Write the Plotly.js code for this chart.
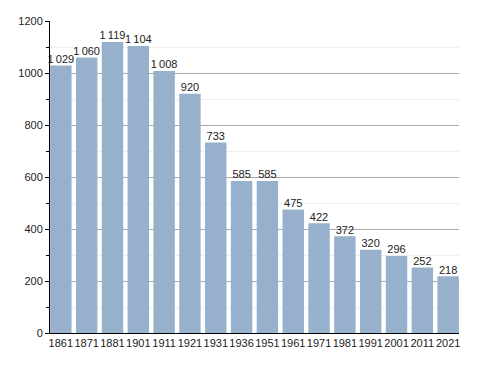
<!DOCTYPE html>
<html><head><meta charset="utf-8">
<script src="https://cdn.plot.ly/plotly-3.0.1.min.js"></script>
<style>body{margin:0;background:#fff}#c{width:488px;height:373px}</style>
</head><body><div id="c"></div>
<script>
const years = ["1861","1871","1881","1901","1911","1921","1931","1936","1951","1961","1971","1981","1991","2001","2011","2021"];
const population = [1029,1060,1119,1104,1008,920,733,585,585,475,422,372,320,296,252,218];
const labels = population.map(v => v >= 1000 ? Math.floor(v/1000) + "\u2009" + String(v%1000).padStart(3,"0") : String(v));

const fam = "Liberation Sans, Arial, sans-serif";
Plotly.newPlot("c", [{
  type: "bar",
  x: years,
  y: population,
  marker: {color: "#97b1cd", line: {width: 0}},
  hoverinfo: "none"
}, {
  type: "scatter",
  mode: "text",
  x: years,
  y: population,
  text: labels,
  textposition: "top center",
  cliponaxis: false,
  textfont: {family: fam, size: 11, color: "#222"},
  hoverinfo: "none"
}], {
  width: 488, height: 373,
  margin: {l: 50, r: 29, t: 21, b: 40},
  paper_bgcolor: "#fff", plot_bgcolor: "#fff",
  bargap: 0.17,
  showlegend: false,
  font: {family: fam, size: 11, color: "#222"},
  xaxis: {
    type: "category", range: [-0.42, 15.42],
    showline: true, linecolor: "#000", linewidth: 1,
    ticks: "", showgrid: false, tickangle: 0, tickfont: {size: 11, color: "#222"},
    fixedrange: true
  },
  yaxis: {
    range: [0, 1200], dtick: 200, tick0: 0,
    showline: true, linecolor: "#000", linewidth: 1,
    ticks: "outside", ticklen: 4, tickcolor: "#000",
    gridcolor: "#aaaaaa", gridwidth: 1, zeroline: false,
    minor: {dtick: 100, showgrid: true, gridcolor: "#eeeeee", ticks: "outside", ticklen: 3, tickcolor: "#000"},
    tickfont: {size: 11, color: "#222"},
    fixedrange: true
  }
}, {staticPlot: true});
</script>
</body></html>
